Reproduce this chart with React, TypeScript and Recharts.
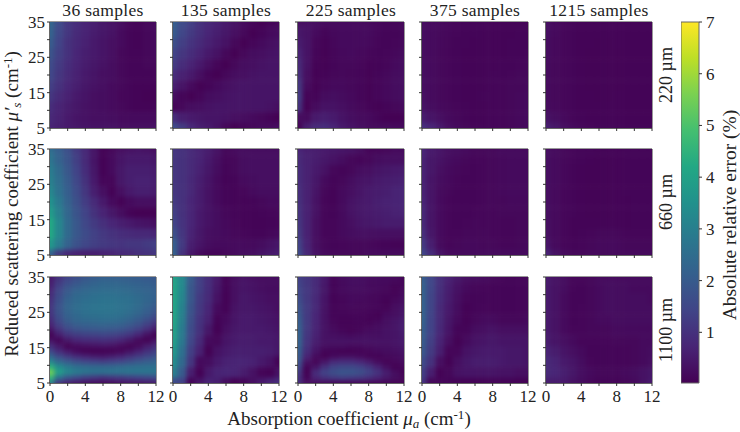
import { Bar, BarChart, ReferenceArea, Scatter, ScatterChart, XAxis, YAxis } from 'recharts';

const FONT = '"Liberation Serif", serif';
const INK = '#333333';

const muA = [0, 1, 2, 3, 4, 5, 6, 7, 8, 9, 10, 11, 12];
const muS = [35, 32, 29, 26, 23, 20, 17, 14, 11, 8, 5];
const muSFine = [35, 33.5, 32, 30.5, 29, 27.5, 26, 24.5, 23, 21.5, 20, 18.5, 17, 15.5, 14, 12.5, 11, 9.5, 8, 6.5, 5];
const xTicks = [0, 2, 4, 6, 8, 10, 12];
const yTicks = [5, 10, 15, 20, 25, 30, 35];
const xLabelled = [0, 4, 8, 12];
const yLabelled = [5, 15, 25, 35];
const barTicks = [1, 2, 3, 4, 5, 6, 7];
const sampleCounts = ['36 samples', '135 samples', '225 samples', '375 samples', '1215 samples'];
const sizes = ['220 µm', '660 µm', '1100 µm'];

// viridis, bottom to top of the colour bar
const viridis = ['#440154', '#482475', '#414487', '#355f8d', '#2a788e', '#21918c', '#22a884', '#44bf70', '#7ad151', '#bddf26', '#fde725'];

const byColumn = (cols: number[][]) => cols[0].map((_, i) => cols.map((c) => c[i]));

// absolute relative error, rows follow muS, columns follow muA
const e36at220 = [
  [2.3, 1.6, 1.1, 0.9, 0.7, 0.6, 0.45, 0.35, 0.25, 0.12, 0.08, 0.15, 0.2],
  [2.2, 1.5, 1.1, 0.85, 0.7, 0.55, 0.45, 0.35, 0.2, 0.1, 0.08, 0.15, 0.2],
  [2.0, 1.4, 1.0, 0.8, 0.65, 0.5, 0.4, 0.3, 0.2, 0.1, 0.08, 0.15, 0.2],
  [1.8, 1.3, 1.0, 0.75, 0.6, 0.5, 0.4, 0.3, 0.15, 0.1, 0.1, 0.15, 0.2],
  [1.6, 1.2, 0.9, 0.7, 0.55, 0.45, 0.35, 0.25, 0.15, 0.1, 0.1, 0.15, 0.15],
  [1.5, 1.1, 0.85, 0.65, 0.5, 0.4, 0.3, 0.25, 0.15, 0.1, 0.1, 0.1, 0.12],
  [1.3, 1.0, 0.75, 0.6, 0.45, 0.35, 0.3, 0.2, 0.15, 0.1, 0.08, 0.08, 0.08],
  [1.1, 0.85, 0.65, 0.5, 0.4, 0.3, 0.25, 0.2, 0.12, 0.1, 0.08, 0.05, 0.05],
  [0.9, 0.7, 0.55, 0.45, 0.35, 0.3, 0.25, 0.2, 0.15, 0.1, 0.08, 0.08, 0.1],
  [0.8, 0.65, 0.5, 0.4, 0.35, 0.3, 0.3, 0.25, 0.2, 0.2, 0.2, 0.2, 0.2],
  [0.7, 0.6, 0.5, 0.45, 0.4, 0.35, 0.35, 0.35, 0.3, 0.3, 0.3, 0.3, 0.35],
];
const e135at220 = [
  [2.1, 1.6, 1.3, 1.0, 0.8, 0.65, 0.5, 0.35, 0.2, 0.1, 0.03, 0.1, 0.15],
  [2.0, 1.5, 1.2, 0.95, 0.75, 0.6, 0.45, 0.3, 0.15, 0.03, 0.1, 0.2, 0.25],
  [1.7, 1.3, 1.05, 0.85, 0.65, 0.5, 0.35, 0.15, 0.03, 0.12, 0.2, 0.3, 0.35],
  [1.4, 1.1, 0.9, 0.7, 0.5, 0.35, 0.15, 0.03, 0.15, 0.25, 0.3, 0.35, 0.4],
  [1.2, 0.9, 0.7, 0.5, 0.3, 0.12, 0.03, 0.15, 0.25, 0.3, 0.35, 0.4, 0.4],
  [0.9, 0.65, 0.5, 0.3, 0.1, 0.03, 0.15, 0.25, 0.3, 0.35, 0.4, 0.4, 0.4],
  [0.6, 0.4, 0.2, 0.05, 0.1, 0.2, 0.3, 0.35, 0.4, 0.4, 0.4, 0.4, 0.4],
  [0.25, 0.1, 0.03, 0.12, 0.25, 0.3, 0.35, 0.4, 0.4, 0.4, 0.4, 0.4, 0.4],
  [0.08, 0.15, 0.25, 0.3, 0.35, 0.4, 0.4, 0.4, 0.4, 0.4, 0.4, 0.35, 0.3],
  [0.9, 0.6, 0.5, 0.45, 0.4, 0.4, 0.35, 0.3, 0.25, 0.2, 0.15, 0.08, 0.03],
  [1.6, 1.2, 0.8, 0.6, 0.5, 0.35, 0.15, 0.03, 0.1, 0.15, 0.2, 0.2, 0.25],
];
const e225at220 = [
  [0.3, 0.3, 0.25, 0.2, 0.2, 0.2, 0.2, 0.2, 0.18, 0.14, 0.1, 0.1, 0.15],
  [0.45, 0.35, 0.2, 0.1, 0.16, 0.2, 0.2, 0.2, 0.2, 0.14, 0.1, 0.1, 0.15],
  [0.55, 0.38, 0.12, 0.06, 0.14, 0.2, 0.2, 0.2, 0.18, 0.12, 0.1, 0.12, 0.18],
  [0.7, 0.38, 0.1, 0.05, 0.12, 0.18, 0.2, 0.16, 0.12, 0.1, 0.12, 0.16, 0.24],
  [0.85, 0.36, 0.06, 0.05, 0.1, 0.15, 0.15, 0.12, 0.06, 0.08, 0.12, 0.2, 0.28],
  [0.95, 0.3, 0.04, 0.08, 0.13, 0.15, 0.13, 0.1, 0.05, 0.1, 0.16, 0.24, 0.3],
  [1.15, 0.22, 0.04, 0.14, 0.18, 0.18, 0.15, 0.1, 0.05, 0.12, 0.18, 0.26, 0.3],
  [1.25, 0.08, 0.08, 0.24, 0.28, 0.24, 0.18, 0.1, 0.05, 0.12, 0.18, 0.24, 0.3],
  [1.05, 0.04, 0.22, 0.36, 0.36, 0.3, 0.22, 0.15, 0.08, 0.05, 0.1, 0.15, 0.2],
  [0.25, 0.22, 0.5, 0.6, 0.52, 0.38, 0.28, 0.22, 0.18, 0.1, 0.04, 0.03, 0.06],
  [0.05, 0.6, 0.85, 0.9, 0.72, 0.5, 0.38, 0.28, 0.22, 0.22, 0.22, 0.18, 0.18],
];
const e375at220 = [
  [0.25, 0.2, 0.18, 0.15, 0.12, 0.1, 0.1, 0.1, 0.08, 0.08, 0.08, 0.08, 0.08],
  [0.25, 0.2, 0.17, 0.14, 0.12, 0.1, 0.1, 0.08, 0.08, 0.08, 0.08, 0.1, 0.1],
  [0.25, 0.2, 0.16, 0.13, 0.1, 0.1, 0.08, 0.08, 0.08, 0.08, 0.1, 0.1, 0.1],
  [0.25, 0.2, 0.15, 0.12, 0.1, 0.08, 0.08, 0.08, 0.08, 0.08, 0.1, 0.1, 0.12],
  [0.25, 0.2, 0.15, 0.12, 0.1, 0.08, 0.08, 0.08, 0.08, 0.1, 0.1, 0.12, 0.15],
  [0.25, 0.2, 0.15, 0.12, 0.1, 0.08, 0.08, 0.08, 0.1, 0.1, 0.12, 0.15, 0.15],
  [0.25, 0.2, 0.15, 0.12, 0.1, 0.08, 0.08, 0.08, 0.1, 0.12, 0.15, 0.15, 0.18],
  [0.3, 0.2, 0.15, 0.12, 0.1, 0.08, 0.08, 0.1, 0.1, 0.12, 0.15, 0.18, 0.2],
  [0.35, 0.25, 0.18, 0.15, 0.12, 0.1, 0.08, 0.08, 0.1, 0.12, 0.15, 0.18, 0.2],
  [0.55, 0.4, 0.3, 0.2, 0.15, 0.1, 0.08, 0.08, 0.1, 0.12, 0.15, 0.18, 0.2],
  [0.95, 0.75, 0.5, 0.3, 0.2, 0.15, 0.12, 0.1, 0.1, 0.12, 0.15, 0.18, 0.2],
];
const e1215at220 = [
  [0.3, 0.18, 0.12, 0.1, 0.08, 0.08, 0.08, 0.08, 0.08, 0.08, 0.08, 0.08, 0.08],
  [0.28, 0.18, 0.12, 0.1, 0.08, 0.08, 0.08, 0.08, 0.08, 0.08, 0.08, 0.08, 0.08],
  [0.25, 0.16, 0.12, 0.1, 0.08, 0.08, 0.07, 0.07, 0.08, 0.08, 0.08, 0.08, 0.08],
  [0.25, 0.16, 0.12, 0.1, 0.08, 0.07, 0.07, 0.07, 0.07, 0.08, 0.08, 0.08, 0.08],
  [0.22, 0.15, 0.12, 0.1, 0.08, 0.07, 0.07, 0.07, 0.07, 0.08, 0.08, 0.08, 0.08],
  [0.2, 0.15, 0.12, 0.1, 0.08, 0.07, 0.07, 0.07, 0.07, 0.08, 0.08, 0.08, 0.08],
  [0.2, 0.15, 0.12, 0.1, 0.08, 0.07, 0.07, 0.07, 0.07, 0.08, 0.08, 0.08, 0.08],
  [0.2, 0.15, 0.12, 0.1, 0.08, 0.08, 0.07, 0.07, 0.08, 0.08, 0.08, 0.08, 0.08],
  [0.22, 0.16, 0.12, 0.1, 0.08, 0.08, 0.08, 0.08, 0.08, 0.08, 0.08, 0.08, 0.08],
  [0.35, 0.25, 0.18, 0.12, 0.1, 0.08, 0.08, 0.08, 0.08, 0.08, 0.08, 0.08, 0.08],
  [0.6, 0.45, 0.3, 0.2, 0.15, 0.12, 0.1, 0.1, 0.1, 0.1, 0.1, 0.1, 0.1],
];
const e36at660 = [
  [2.5, 2.1, 1.7, 1.2, 0.8, 0.4, 0.06, 0.15, 0.3, 0.35, 0.4, 0.35, 0.3],
  [2.7, 2.2, 1.8, 1.3, 0.85, 0.4, 0.06, 0.2, 0.4, 0.5, 0.5, 0.5, 0.45],
  [2.9, 2.4, 1.9, 1.4, 0.9, 0.45, 0.06, 0.2, 0.45, 0.6, 0.6, 0.6, 0.55],
  [3.0, 2.5, 2.0, 1.5, 1.0, 0.5, 0.12, 0.12, 0.45, 0.6, 0.65, 0.65, 0.6],
  [3.2, 2.6, 2.1, 1.6, 1.1, 0.6, 0.3, 0.06, 0.3, 0.5, 0.6, 0.6, 0.55],
  [3.5, 2.8, 2.2, 1.7, 1.25, 0.85, 0.5, 0.2, 0.06, 0.2, 0.3, 0.3, 0.3],
  [3.8, 3.0, 2.3, 1.8, 1.4, 1.0, 0.7, 0.45, 0.25, 0.08, 0.03, 0.03, 0.03],
  [4.2, 3.2, 2.4, 1.9, 1.5, 1.2, 0.95, 0.75, 0.6, 0.5, 0.4, 0.35, 0.3],
  [4.2, 3.2, 2.4, 1.9, 1.6, 1.35, 1.15, 1.0, 0.9, 0.85, 0.8, 0.8, 0.75],
  [3.7, 2.9, 2.2, 1.75, 1.5, 1.3, 1.2, 1.1, 1.05, 1.1, 1.1, 1.2, 1.3],
  [2.2, 1.2, 0.8, 0.65, 0.6, 0.6, 0.65, 0.7, 0.8, 0.85, 0.95, 1.0, 1.1],
];
const e135at660 = [
  [1.1, 1.0, 0.85, 0.7, 0.55, 0.35, 0.15, 0.2, 0.25, 0.25, 0.25, 0.25, 0.25],
  [1.1, 1.0, 0.85, 0.7, 0.5, 0.3, 0.12, 0.15, 0.25, 0.3, 0.3, 0.3, 0.3],
  [1.1, 1.0, 0.85, 0.65, 0.45, 0.25, 0.1, 0.15, 0.25, 0.3, 0.3, 0.3, 0.3],
  [1.1, 1.0, 0.8, 0.6, 0.4, 0.2, 0.08, 0.1, 0.2, 0.25, 0.3, 0.3, 0.3],
  [1.1, 1.0, 0.8, 0.55, 0.35, 0.2, 0.1, 0.08, 0.12, 0.2, 0.25, 0.25, 0.25],
  [1.2, 1.0, 0.75, 0.55, 0.35, 0.2, 0.1, 0.08, 0.08, 0.1, 0.15, 0.2, 0.2],
  [1.3, 1.0, 0.75, 0.5, 0.35, 0.25, 0.15, 0.1, 0.08, 0.08, 0.1, 0.12, 0.15],
  [1.4, 1.05, 0.75, 0.5, 0.35, 0.25, 0.18, 0.12, 0.08, 0.08, 0.08, 0.1, 0.12],
  [1.7, 1.1, 0.7, 0.45, 0.3, 0.25, 0.2, 0.15, 0.12, 0.1, 0.1, 0.15, 0.2],
  [2.1, 1.2, 0.6, 0.4, 0.25, 0.2, 0.2, 0.2, 0.2, 0.2, 0.25, 0.35, 0.45],
  [2.2, 1.0, 0.45, 0.2, 0.1, 0.1, 0.15, 0.2, 0.25, 0.3, 0.4, 0.5, 0.6],
];
const e225at660 = [
  [0.75, 0.6, 0.55, 0.5, 0.45, 0.4, 0.35, 0.25, 0.1, 0.12, 0.15, 0.2, 0.2],
  [0.85, 0.65, 0.55, 0.45, 0.35, 0.25, 0.15, 0.1, 0.15, 0.25, 0.3, 0.3, 0.3],
  [0.9, 0.65, 0.5, 0.35, 0.15, 0.1, 0.15, 0.25, 0.3, 0.4, 0.45, 0.5, 0.55],
  [0.9, 0.65, 0.45, 0.2, 0.1, 0.15, 0.25, 0.35, 0.4, 0.5, 0.55, 0.6, 0.65],
  [0.95, 0.65, 0.4, 0.15, 0.08, 0.2, 0.3, 0.4, 0.5, 0.55, 0.6, 0.7, 0.75],
  [1.0, 0.65, 0.35, 0.12, 0.08, 0.2, 0.35, 0.45, 0.5, 0.6, 0.65, 0.7, 0.75],
  [1.05, 0.65, 0.35, 0.12, 0.1, 0.2, 0.35, 0.45, 0.5, 0.55, 0.6, 0.65, 0.7],
  [1.1, 0.65, 0.3, 0.12, 0.12, 0.2, 0.3, 0.4, 0.45, 0.5, 0.55, 0.55, 0.55],
  [1.2, 0.65, 0.3, 0.12, 0.12, 0.2, 0.25, 0.3, 0.3, 0.3, 0.3, 0.3, 0.3],
  [1.4, 0.7, 0.3, 0.15, 0.1, 0.12, 0.15, 0.15, 0.15, 0.12, 0.1, 0.08, 0.08],
  [1.6, 0.8, 0.35, 0.2, 0.15, 0.15, 0.15, 0.15, 0.2, 0.2, 0.2, 0.2, 0.2],
];
const e375at660 = [
  [0.75, 0.5, 0.4, 0.3, 0.25, 0.2, 0.15, 0.15, 0.15, 0.2, 0.2, 0.2, 0.2],
  [0.7, 0.45, 0.35, 0.25, 0.2, 0.15, 0.12, 0.12, 0.15, 0.18, 0.2, 0.2, 0.2],
  [0.7, 0.45, 0.3, 0.2, 0.15, 0.12, 0.1, 0.12, 0.15, 0.18, 0.2, 0.2, 0.2],
  [0.7, 0.4, 0.25, 0.18, 0.12, 0.1, 0.1, 0.12, 0.15, 0.18, 0.2, 0.2, 0.2],
  [0.7, 0.4, 0.22, 0.15, 0.1, 0.1, 0.1, 0.12, 0.15, 0.18, 0.2, 0.2, 0.2],
  [0.75, 0.4, 0.2, 0.12, 0.1, 0.1, 0.1, 0.12, 0.15, 0.15, 0.18, 0.18, 0.18],
  [0.8, 0.4, 0.2, 0.12, 0.1, 0.1, 0.12, 0.12, 0.12, 0.15, 0.15, 0.15, 0.15],
  [0.85, 0.4, 0.2, 0.12, 0.1, 0.12, 0.15, 0.12, 0.12, 0.12, 0.12, 0.15, 0.15],
  [0.95, 0.45, 0.2, 0.12, 0.12, 0.15, 0.15, 0.15, 0.12, 0.12, 0.12, 0.15, 0.15],
  [1.2, 0.6, 0.22, 0.12, 0.15, 0.18, 0.18, 0.15, 0.15, 0.12, 0.12, 0.15, 0.18],
  [1.5, 0.9, 0.4, 0.2, 0.2, 0.2, 0.2, 0.2, 0.2, 0.2, 0.2, 0.2, 0.2],
];
const e1215at660 = [
  [0.3, 0.22, 0.15, 0.12, 0.1, 0.1, 0.08, 0.08, 0.08, 0.1, 0.1, 0.1, 0.1],
  [0.28, 0.2, 0.15, 0.12, 0.1, 0.08, 0.07, 0.07, 0.08, 0.1, 0.1, 0.1, 0.1],
  [0.28, 0.2, 0.14, 0.1, 0.08, 0.07, 0.07, 0.07, 0.08, 0.1, 0.1, 0.1, 0.1],
  [0.28, 0.2, 0.14, 0.1, 0.08, 0.07, 0.07, 0.07, 0.08, 0.1, 0.1, 0.1, 0.1],
  [0.28, 0.18, 0.12, 0.1, 0.08, 0.07, 0.07, 0.07, 0.08, 0.1, 0.1, 0.1, 0.1],
  [0.28, 0.18, 0.12, 0.1, 0.08, 0.07, 0.07, 0.07, 0.08, 0.08, 0.1, 0.1, 0.1],
  [0.28, 0.18, 0.12, 0.1, 0.08, 0.07, 0.07, 0.07, 0.08, 0.08, 0.1, 0.1, 0.1],
  [0.3, 0.18, 0.12, 0.08, 0.08, 0.08, 0.08, 0.08, 0.08, 0.08, 0.1, 0.1, 0.1],
  [0.32, 0.18, 0.12, 0.08, 0.1, 0.12, 0.15, 0.15, 0.15, 0.12, 0.12, 0.12, 0.12],
  [0.4, 0.2, 0.12, 0.1, 0.12, 0.15, 0.18, 0.18, 0.18, 0.15, 0.15, 0.15, 0.15],
  [0.7, 0.35, 0.2, 0.15, 0.15, 0.18, 0.18, 0.18, 0.18, 0.18, 0.18, 0.18, 0.18],
];
// these two are read column by column, top to bottom along muSFine
const e36at1100 = byColumn([
  [0.5, 0.6, 0.7, 0.85, 0.95, 1.05, 1.1, 1.05, 0.9, 0.7, 0.35, 0.05, 0.35, 0.9, 1.5, 2.3, 3.2, 4.5, 5.5, 4.6, 3.0],
  [1.0, 1.2, 1.4, 1.55, 1.65, 1.75, 1.8, 1.75, 1.6, 1.35, 1.0, 0.55, 0.08, 0.45, 0.9, 1.6, 2.4, 3.4, 3.9, 2.6, 1.0],
  [1.4, 1.6, 1.85, 2.0, 2.15, 2.25, 2.25, 2.2, 2.05, 1.8, 1.45, 1.0, 0.45, 0.05, 0.5, 1.2, 2.0, 2.9, 3.2, 1.9, 0.6],
  [1.65, 1.85, 2.1, 2.3, 2.4, 2.45, 2.5, 2.4, 2.3, 2.05, 1.7, 1.2, 0.7, 0.2, 0.2, 0.9, 1.7, 2.6, 2.9, 1.6, 0.4],
  [1.85, 2.05, 2.25, 2.4, 2.5, 2.6, 2.6, 2.55, 2.4, 2.15, 1.8, 1.3, 0.8, 0.3, 0.07, 0.7, 1.5, 2.5, 2.7, 1.3, 0.25],
  [2.0, 2.2, 2.35, 2.5, 2.6, 2.65, 2.7, 2.6, 2.45, 2.2, 1.85, 1.35, 0.85, 0.35, 0.03, 0.55, 1.4, 2.4, 2.6, 1.15, 0.2],
  [2.1, 2.3, 2.4, 2.55, 2.65, 2.7, 2.7, 2.65, 2.5, 2.25, 1.9, 1.4, 0.9, 0.4, 0.03, 0.5, 1.3, 2.4, 2.6, 1.0, 0.15],
  [2.1, 2.3, 2.4, 2.55, 2.65, 2.7, 2.7, 2.65, 2.5, 2.2, 1.85, 1.35, 0.85, 0.35, 0.05, 0.6, 1.4, 2.4, 2.65, 1.1, 0.2],
  [2.1, 2.25, 2.4, 2.5, 2.6, 2.65, 2.65, 2.6, 2.4, 2.15, 1.75, 1.25, 0.7, 0.2, 0.12, 0.75, 1.5, 2.5, 2.65, 1.2, 0.3],
  [2.05, 2.2, 2.35, 2.45, 2.55, 2.6, 2.55, 2.45, 2.25, 1.95, 1.55, 1.05, 0.45, 0.06, 0.35, 1.0, 1.7, 2.55, 2.7, 1.3, 0.35],
  [2.0, 2.15, 2.25, 2.35, 2.45, 2.45, 2.4, 2.25, 2.0, 1.7, 1.25, 0.7, 0.15, 0.2, 0.65, 1.25, 1.9, 2.6, 2.7, 1.4, 0.4],
  [1.95, 2.1, 2.2, 2.25, 2.3, 2.25, 2.15, 2.0, 1.7, 1.3, 0.85, 0.3, 0.05, 0.55, 1.0, 1.5, 2.05, 2.6, 2.7, 1.5, 0.45],
  [1.9, 2.0, 2.1, 2.15, 2.15, 2.05, 1.9, 1.7, 1.35, 0.9, 0.45, 0.03, 0.4, 0.85, 1.3, 1.75, 2.2, 2.6, 2.7, 1.6, 0.5],
]);
const e135at1100 = [
  [4.0, 3.3, 2.0, 1.3, 0.9, 0.5, 0.06, 0.25, 0.35, 0.3, 0.25, 0.25, 0.25],
  [4.1, 3.3, 1.9, 1.3, 0.9, 0.45, 0.08, 0.3, 0.4, 0.35, 0.3, 0.25, 0.25],
  [4.1, 3.2, 1.9, 1.2, 0.85, 0.35, 0.06, 0.3, 0.45, 0.4, 0.35, 0.3, 0.3],
  [4.1, 3.1, 1.8, 1.15, 0.75, 0.2, 0.08, 0.35, 0.45, 0.45, 0.4, 0.35, 0.3],
  [4.1, 3.0, 1.7, 1.05, 0.65, 0.08, 0.2, 0.4, 0.5, 0.5, 0.45, 0.4, 0.35],
  [4.0, 2.9, 1.6, 1.0, 0.45, 0.04, 0.3, 0.45, 0.5, 0.5, 0.5, 0.45, 0.4],
  [3.9, 2.8, 1.5, 0.85, 0.2, 0.15, 0.4, 0.5, 0.55, 0.55, 0.5, 0.5, 0.45],
  [3.7, 2.6, 1.3, 0.65, 0.05, 0.35, 0.5, 0.6, 0.6, 0.6, 0.6, 0.55, 0.45],
  [3.4, 2.4, 1.1, 0.2, 0.25, 0.5, 0.65, 0.7, 0.7, 0.65, 0.5, 0.35, 0.06],
  [3.0, 2.0, 0.6, 0.06, 0.5, 0.7, 0.75, 0.7, 0.55, 0.35, 0.12, 0.06, 0.35],
  [1.6, 1.4, 0.1, 0.4, 0.7, 0.6, 0.25, 0.05, 0.1, 0.3, 0.5, 0.7, 0.9],
];
const e225at1100 = byColumn([
  [1.3, 1.4, 1.45, 1.5, 1.6, 1.7, 1.8, 1.9, 2.0, 2.1, 2.15, 2.2, 2.2, 2.15, 2.05, 1.95, 1.75, 1.5, 1.2, 1.0, 0.9],
  [1.1, 1.1, 1.15, 1.15, 1.15, 1.2, 1.2, 1.2, 1.2, 1.2, 1.15, 1.1, 1.05, 1.0, 0.9, 0.7, 0.35, 0.1, 0.05, 0.1, 0.3],
  [0.85, 0.85, 0.85, 0.85, 0.8, 0.8, 0.8, 0.75, 0.75, 0.7, 0.7, 0.65, 0.6, 0.5, 0.4, 0.2, 0.08, 0.4, 0.9, 0.7, 0.2],
  [0.5, 0.5, 0.45, 0.45, 0.4, 0.4, 0.35, 0.35, 0.35, 0.35, 0.35, 0.35, 0.35, 0.3, 0.1, 0.05, 0.4, 1.0, 1.4, 1.0, 0.15],
  [0.12, 0.12, 0.1, 0.1, 0.08, 0.08, 0.08, 0.1, 0.12, 0.15, 0.2, 0.3, 0.35, 0.25, 0.08, 0.2, 0.8, 1.4, 1.7, 1.2, 0.1],
  [0.25, 0.22, 0.2, 0.18, 0.15, 0.12, 0.12, 0.1, 0.08, 0.06, 0.1, 0.25, 0.35, 0.25, 0.05, 0.3, 0.9, 1.55, 1.85, 1.3, 0.1],
  [0.3, 0.28, 0.25, 0.22, 0.2, 0.18, 0.15, 0.12, 0.08, 0.06, 0.05, 0.2, 0.35, 0.2, 0.03, 0.3, 0.9, 1.55, 1.85, 1.25, 0.08],
  [0.3, 0.28, 0.25, 0.22, 0.2, 0.15, 0.15, 0.12, 0.1, 0.08, 0.1, 0.25, 0.35, 0.2, 0.06, 0.2, 0.75, 1.4, 1.7, 1.15, 0.08],
  [0.25, 0.22, 0.2, 0.2, 0.15, 0.15, 0.12, 0.1, 0.06, 0.1, 0.2, 0.3, 0.35, 0.25, 0.12, 0.08, 0.5, 1.1, 1.4, 0.95, 0.08],
  [0.25, 0.22, 0.2, 0.15, 0.15, 0.12, 0.1, 0.05, 0.1, 0.2, 0.25, 0.3, 0.35, 0.3, 0.2, 0.06, 0.2, 0.7, 1.05, 0.7, 0.08],
  [0.2, 0.2, 0.15, 0.12, 0.08, 0.05, 0.08, 0.2, 0.3, 0.3, 0.35, 0.35, 0.35, 0.3, 0.25, 0.15, 0.06, 0.3, 0.6, 0.45, 0.06],
  [0.2, 0.15, 0.05, 0.06, 0.15, 0.2, 0.25, 0.3, 0.4, 0.4, 0.4, 0.4, 0.4, 0.35, 0.3, 0.2, 0.12, 0.05, 0.25, 0.25, 0.05],
  [0.1, 0.12, 0.15, 0.2, 0.3, 0.3, 0.4, 0.45, 0.55, 0.6, 0.6, 0.55, 0.5, 0.45, 0.4, 0.3, 0.2, 0.12, 0.05, 0.12, 0.05],
]);
const e375at1100 = [
  [2.1, 1.5, 0.95, 0.65, 0.45, 0.3, 0.25, 0.2, 0.15, 0.12, 0.1, 0.12, 0.15],
  [2.2, 1.5, 0.95, 0.6, 0.35, 0.2, 0.15, 0.12, 0.1, 0.1, 0.1, 0.12, 0.15],
  [2.2, 1.45, 0.9, 0.55, 0.3, 0.12, 0.1, 0.1, 0.1, 0.1, 0.1, 0.12, 0.15],
  [2.2, 1.45, 0.85, 0.5, 0.25, 0.06, 0.1, 0.12, 0.1, 0.1, 0.1, 0.12, 0.15],
  [2.2, 1.4, 0.85, 0.45, 0.2, 0.06, 0.15, 0.2, 0.2, 0.15, 0.15, 0.15, 0.2],
  [2.1, 1.4, 0.8, 0.4, 0.1, 0.1, 0.25, 0.3, 0.35, 0.3, 0.3, 0.3, 0.3],
  [2.0, 1.3, 0.7, 0.3, 0.05, 0.2, 0.35, 0.4, 0.45, 0.4, 0.4, 0.4, 0.4],
  [1.9, 1.2, 0.6, 0.12, 0.12, 0.35, 0.45, 0.5, 0.5, 0.5, 0.45, 0.45, 0.4],
  [1.6, 1.0, 0.3, 0.05, 0.3, 0.45, 0.55, 0.55, 0.55, 0.5, 0.45, 0.45, 0.4],
  [1.3, 0.6, 0.06, 0.15, 0.35, 0.4, 0.4, 0.4, 0.4, 0.35, 0.35, 0.3, 0.3],
  [1.1, 0.15, 0.12, 0.1, 0.08, 0.06, 0.06, 0.08, 0.08, 0.08, 0.08, 0.06, 0.05],
];
const e1215at1100 = [
  [0.5, 0.35, 0.25, 0.12, 0.12, 0.15, 0.2, 0.2, 0.2, 0.2, 0.2, 0.2, 0.2],
  [0.5, 0.35, 0.25, 0.12, 0.1, 0.15, 0.2, 0.25, 0.25, 0.25, 0.2, 0.2, 0.2],
  [0.5, 0.35, 0.2, 0.1, 0.1, 0.15, 0.2, 0.25, 0.25, 0.25, 0.25, 0.25, 0.2],
  [0.5, 0.35, 0.2, 0.1, 0.12, 0.15, 0.2, 0.25, 0.25, 0.25, 0.25, 0.25, 0.25],
  [0.5, 0.35, 0.2, 0.1, 0.12, 0.15, 0.2, 0.2, 0.25, 0.25, 0.25, 0.25, 0.25],
  [0.5, 0.35, 0.2, 0.12, 0.12, 0.15, 0.15, 0.15, 0.2, 0.2, 0.2, 0.2, 0.2],
  [0.55, 0.4, 0.3, 0.2, 0.12, 0.12, 0.12, 0.12, 0.15, 0.15, 0.15, 0.2, 0.2],
  [0.7, 0.55, 0.4, 0.3, 0.2, 0.1, 0.1, 0.1, 0.1, 0.12, 0.15, 0.2, 0.25],
  [0.85, 0.7, 0.5, 0.4, 0.25, 0.12, 0.1, 0.1, 0.1, 0.12, 0.15, 0.2, 0.3],
  [0.85, 0.75, 0.6, 0.45, 0.3, 0.2, 0.15, 0.15, 0.15, 0.2, 0.25, 0.35, 0.45],
  [0.6, 0.55, 0.5, 0.35, 0.25, 0.15, 0.1, 0.1, 0.1, 0.15, 0.2, 0.35, 0.5],
];

const grids = [
  [e36at220, e135at220, e225at220, e375at220, e1215at220],
  [e36at660, e135at660, e225at660, e375at660, e1215at660],
  [e36at1100, e135at1100, e225at1100, e375at1100, e1215at1100],
];

const colX = [50, 173, 298, 422, 546];
const rowY = [22, 149, 277];
const PANEL = 106;
const M = { top: 12, right: 14, left: 0, bottom: 0 };
const AXIS_W = 36;
const AXIS_H = 30;
const CELL_W = PANEL / 12;
const BLEED = 14;

const colourOf = (v: number) => {
  const t = Math.min(1, Math.max(0, (v - 0.02) / 6.98)) * (viridis.length - 1);
  const i = Math.min(viridis.length - 2, Math.floor(t));
  const a = viridis[i];
  const b = viridis[i + 1];
  const mix = (p: number) => {
    const ca = parseInt(a.slice(p, p + 2), 16);
    const cb = parseInt(b.slice(p, p + 2), 16);
    return Math.round(ca + (cb - ca) * (t - i));
  };
  return `rgb(${mix(1)},${mix(3)},${mix(5)})`;
};

// one heat cell; cells on the border run past the plot so the blur has no faded edge
const HeatCell = (props: any) => {
  const { cx, cy, payload, cellH } = props;
  const l = payload.a === 0 ? BLEED : 0;
  const r = payload.a === 12 ? BLEED : 0;
  const t = payload.s === 35 ? BLEED : 0;
  const b = payload.s === 5 ? BLEED : 0;
  return (
    <rect
      x={cx - CELL_W / 2 - l}
      y={cy - cellH / 2 - t}
      width={CELL_W + l + r + 0.5}
      height={cellH + t + b + 0.5}
      fill={colourOf(payload.e)}
    />
  );
};

const tickStyle = { fontFamily: FONT, fontSize: 17, fill: '#222' };

function Panel({ grid, x, y, showX, showY }: any) {
  const rows = grid.length === muSFine.length ? muSFine : muS;
  const cellH = PANEL / (rows.length - 1);
  const cells = rows.flatMap((s, i) => muA.map((a, j) => ({ a, s, e: grid[i][j] })));
  return (
    <div className="heat" style={{ position: 'absolute', left: x - AXIS_W, top: y - M.top }}>
      <ScatterChart
        width={AXIS_W + PANEL + M.right}
        height={M.top + PANEL + AXIS_H}
        margin={M}
      >
        <XAxis
          type="number"
          dataKey="a"
          domain={[0, 12]}
          ticks={xTicks}
          interval={0}
          allowDataOverflow
          height={AXIS_H}
          tickSize={3}
          tickMargin={4}
          stroke={INK}
          tick={tickStyle}
          tickFormatter={(v: number) => (showX && xLabelled.includes(v) ? String(v) : '')}
        />
        <YAxis
          type="number"
          dataKey="s"
          domain={[5, 35]}
          ticks={yTicks}
          interval={0}
          allowDataOverflow
          width={AXIS_W}
          tickSize={3}
          tickMargin={2}
          stroke={INK}
          tick={tickStyle}
          tickFormatter={(v: number) => (showY && yLabelled.includes(v) ? String(v) : '')}
        />
        <Scatter
          data={cells}
          shape={(p: any) => <HeatCell {...p} cellH={cellH} />}
          isAnimationActive={false}
        />
        <ReferenceArea x1={0} x2={12} y1={5} y2={35} fillOpacity={0} stroke={INK} strokeWidth={1} />
      </ScatterChart>
    </div>
  );
}

const colourBar = [{ name: 'error', span: [0.02, 7] }];

function ColourBar() {
  return (
    <div style={{ position: 'absolute', left: 681, top: 10 }}>
      <BarChart
        width={50}
        height={379}
        data={colourBar}
        margin={{ top: 12, right: 0, left: 0, bottom: 6 }}
        barCategoryGap={0}
      >
        <defs>
          <linearGradient id="viridisBar" x1="0" y1="1" x2="0" y2="0">
            {viridis.map((c, i) => (
              <stop key={c} offset={`${(i / (viridis.length - 1)) * 100}%`} stopColor={c} />
            ))}
          </linearGradient>
        </defs>
        <XAxis dataKey="name" hide />
        <YAxis
          orientation="right"
          type="number"
          domain={[0.02, 7]}
          ticks={barTicks}
          interval={0}
          width={32}
          axisLine={false}
          tickSize={3}
          tickMargin={4}
          stroke={INK}
          tick={tickStyle}
        />
        <Bar dataKey="span" fill="url(#viridisBar)" stroke="#666" strokeWidth={1} isAnimationActive={false} />
      </BarChart>
    </div>
  );
}

export default function App() {
  return (
    <div style={{ position: 'absolute', left: 0, top: 0, width: 740, height: 432, background: '#fff', fontFamily: FONT }}>
      <style>{`.heat .recharts-scatter { filter: blur(2.1px); }`}</style>
      {grids.map((row, r) =>
        row.map((grid, c) => (
          <Panel key={`${r}-${c}`} grid={grid} x={colX[c]} y={rowY[r]} showX={r === 2} showY={c === 0} />
        )),
      )}
      <ColourBar />
      <svg width={740} height={432} style={{ position: 'absolute', left: 0, top: 0, pointerEvents: 'none' }} fontFamily={FONT} fill="#222">
        {sampleCounts.map((t, c) => (
          <text key={t} x={colX[c] + PANEL / 2} y={16} textAnchor="middle" fontSize={17.5} letterSpacing={0.3}>
            {t}
          </text>
        ))}
        {sizes.map((t, r) => (
          <text
            key={t}
            transform={`translate(672, ${rowY[r] + PANEL / 2}) rotate(-90)`}
            textAnchor="middle"
            fontSize={18}
          >
            {t}
          </text>
        ))}
        <text x={349} y={425} textAnchor="middle" fontSize={19}>
          Absorption coefficient <tspan fontStyle="italic">μ</tspan>
          <tspan fontStyle="italic" fontSize={13} dy={3}>a</tspan>
          <tspan dy={-3}> (cm</tspan>
          <tspan fontSize={13} dy={-6}>-1</tspan>
          <tspan dy={6}>)</tspan>
        </text>
        <text transform="translate(18, 204) rotate(-90)" textAnchor="middle" fontSize={19}>
          Reduced scattering coefficient <tspan fontStyle="italic">μ′</tspan>
          <tspan fontStyle="italic" fontSize={13} dy={3}>s</tspan>
          <tspan dy={-3}> (cm</tspan>
          <tspan fontSize={13} dy={-6}>-1</tspan>
          <tspan dy={6}>)</tspan>
        </text>
        <text transform="translate(736, 215) rotate(-90)" textAnchor="middle" fontSize={19.5}>
          Absolute relative error (%)
        </text>
      </svg>
    </div>
  );
}
